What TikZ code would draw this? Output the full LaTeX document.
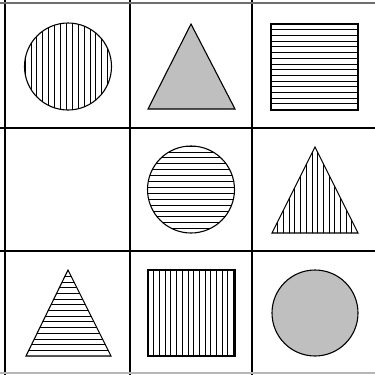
\documentclass[tikz,border=0pt]{standalone}
\usepackage{tikz}
\usetikzlibrary{calc}
\usepackage{xcolor}
\definecolor{fillG}{RGB}{191,191,191}
\definecolor{edgeclr}{RGB}{110,110,110}
\tikzset{
  % panjara
  gridline/.style  = {line width=1.1pt, draw=black},
  edgeline/.style  = {line width=1.1pt, draw=edgeclr},
  % shakllar
  shapeline/.style = {line width=1.1pt, draw=black},
  shapeG/.style    = {fill=fillG, draw=black, line width=1.1pt},
  % shtrix chiziqlar
  hatch/.style     = {line width=0.8pt, draw=black},
}
\begin{document}
\begin{tikzpicture}[x=1pt, y=-1pt]
  \useasboundingbox (0,0) rectangle (375,375);
  % 3x3 panjara
  \foreach \x in {5,130,252}
    \draw[gridline] (\x,0) -- (\x,375);
  \foreach \y in {128,251}
    \draw[gridline] (0,\y) -- (375,\y);
  \draw[edgeline] (0,3) -- (375,3);
  \draw[edgeline, draw=edgeclr!50] (0,373) -- (375,373);
  % 1: doira, tik shtrix
  \begin{scope}
    \clip (68,66.5) circle (43.5);
    \foreach \k in {0,...,15}
      \draw[hatch] (25+\k*5.9,20) -- (25+\k*5.9,115);
  \end{scope}
  \draw[shapeline] (68,66.5) circle (43.5);
  % 2: kulrang uchburchak
  \draw[shapeG] (148,109) -- (191,24) -- (235,109) -- cycle;
  % 3: kvadrat, yotiq shtrix
  \begin{scope}
    \clip (271,24) rectangle (358,110);
    \foreach \k in {0,...,15}
      \draw[hatch] (265,24+\k*5.7) -- (365,24+\k*5.7);
  \end{scope}
  \draw[shapeline] (271,24) rectangle (358,110);
  % 5: doira, yotiq shtrix
  \begin{scope}
    \clip (191,189.5) circle (43.5);
    \foreach \k in {0,...,15}
      \draw[hatch] (140,146+\k*5.9) -- (240,146+\k*5.9);
  \end{scope}
  \draw[shapeline] (191,189.5) circle (43.5);
  % 6: uchburchak, tik shtrix
  \begin{scope}
    \clip (272,233) -- (315,147) -- (358,233) -- cycle;
    \foreach \k in {0,...,15}
      \draw[hatch] (272+\k*5.7,140) -- (272+\k*5.7,240);
  \end{scope}
  \draw[shapeline] (272,233) -- (315,147) -- (358,233) -- cycle;
  % 7: uchburchak, yotiq shtrix
  \begin{scope}
    \clip (26,356) -- (68,270) -- (111,356) -- cycle;
    \foreach \k in {0,...,15}
      \draw[hatch] (20,356-\k*5.7) -- (120,356-\k*5.7);
  \end{scope}
  \draw[shapeline] (26,356) -- (68,270) -- (111,356) -- cycle;
  % 8: kvadrat, tik shtrix
  \begin{scope}
    \clip (148,270) rectangle (235,356);
    \foreach \k in {0,...,15}
      \draw[hatch] (148+\k*5.7,265) -- (148+\k*5.7,360);
  \end{scope}
  \draw[shapeline] (148,270) rectangle (235,356);
  % 9: kulrang doira
  \draw[shapeG] (315,313) circle (43);
\end{tikzpicture}
\end{document}
